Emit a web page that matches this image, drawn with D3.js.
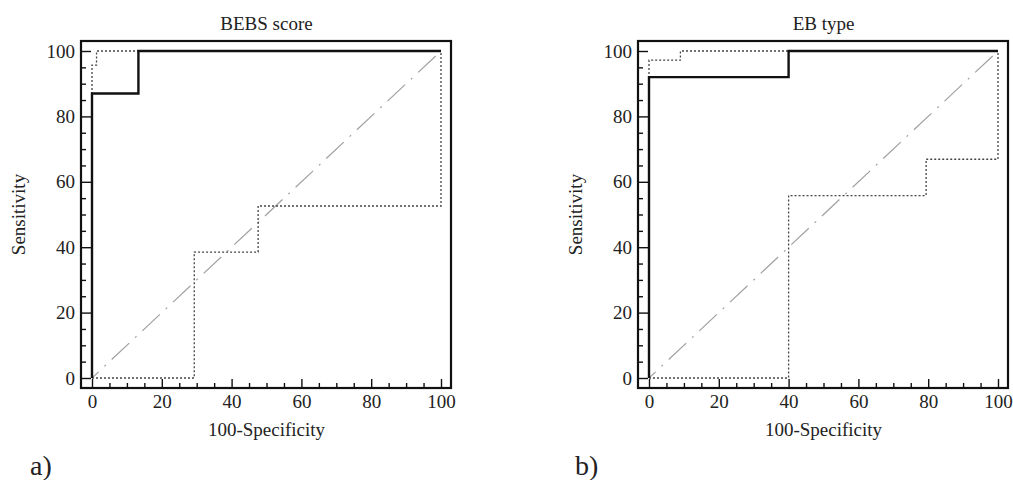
<!DOCTYPE html>
<html lang="en">
  <head>
    <meta charset="utf-8">
    <title>ROC curves</title>
    <style>
      html, body {
        margin: 0;
        padding: 0;
        background: #fff;
        overflow: hidden;
      }
      svg {
        display: block;
        font-family: "Liberation Serif", "DejaVu Serif", serif;
      }
      .axis text {
        font-family: "Liberation Serif", "DejaVu Serif", serif;
        font-size: 19px;
        fill: #222;
      }
      .axis line {
        stroke: #111;
        stroke-width: 1.4;
      }
      .axis path.domain {
        display: none;
      }
    </style>
    <script src="https://d3js.org/d3.v7.min.js"></script>
  </head>
  <body>
    <svg id="chart" width="1013" height="480"></svg>
  </body>
  <script>
  // tick labels
  const majorTicks = [0, 20, 40, 60, 80, 100];
  const minorTicks = [5, 10, 15, 25, 30, 35, 45, 50, 55, 65, 70, 75, 85, 90, 95];

  // a) BEBS score -- [100-specificity, sensitivity]
  const bebsRoc = [[0, 0], [0, 87], [13.3, 87], [13.3, 100], [100, 100]];
  const bebsUpper = [[0, 0], [0, 95.7], [1.3, 95.7], [1.3, 100], [100, 100]];
  const bebsLower = [[0, 0], [29.3, 0], [29.3, 38.5], [47.6, 38.5], [47.6, 52.6], [100, 52.6], [100, 100]];

  // b) EB type
  const ebRoc = [[0, 0], [0, 92], [40, 92], [40, 100], [100, 100]];
  const ebUpper = [[0, 0], [0, 97.2], [9, 97.2], [9, 100], [100, 100]];
  const ebLower = [[0, 0], [40, 0], [40, 55.8], [79.4, 55.8], [79.4, 66.9], [100, 66.9], [100, 100]];

  const diagonal = [[0, 0], [100, 100]];

  const svg = d3.select('#chart');

  drawPanel({ left: 81, title: 'BEBS score', tag: 'a)', tagX: 30, roc: bebsRoc, upper: bebsUpper, lower: bebsLower });
  drawPanel({ left: 638, title: 'EB type', tag: 'b)', tagX: 575, roc: ebRoc, upper: ebUpper, lower: ebLower });

  function drawPanel(p) {
    const top = 41;
    const frameW = 370;
    const frameH = 347;

    const g = svg.append('g').attr('transform', `translate(${p.left},${top})`);

    const x = d3.scaleLinear().domain([0, 100]).range([11, frameW - 10]);
    const y = d3.scaleLinear().domain([0, 100]).range([frameH - 10, 10]);

    const line = d3.line()
      .x(d => x(d[0]))
      .y(d => y(d[1]));

    // minor + major ticks, pointing inward
    g.append('g').attr('class', 'axis')
      .call(d3.axisLeft(y).tickValues(minorTicks).tickSize(-5).tickFormat(''));
    g.append('g').attr('class', 'axis')
      .call(d3.axisLeft(y).tickValues(majorTicks).tickSize(-10).tickPadding(6));
    g.append('g').attr('class', 'axis')
      .attr('transform', `translate(0,${frameH})`)
      .call(d3.axisBottom(x).tickValues(minorTicks).tickSize(-5).tickFormat(''));
    g.append('g').attr('class', 'axis')
      .attr('transform', `translate(0,${frameH})`)
      .call(d3.axisBottom(x).tickValues(majorTicks).tickSize(-9).tickPadding(7));

    // reference diagonal
    g.append('path')
      .datum(diagonal)
      .attr('d', line)
      .attr('fill', 'none')
      .attr('stroke', '#a0a0a0')
      .attr('stroke-width', 1.2)
      .attr('stroke-dasharray', '24,8,2,8')
      .attr('stroke-dashoffset', -27);

    // confidence bounds
    [p.lower, p.upper].forEach(pts => {
      g.append('path')
        .datum(pts)
        .attr('d', line)
        .attr('fill', 'none')
        .attr('stroke', '#444')
        .attr('stroke-width', 1.3)
        .attr('stroke-dasharray', '2,2');
    });

    // ROC curve
    g.append('path')
      .datum(p.roc)
      .attr('d', line)
      .attr('fill', 'none')
      .attr('stroke', '#111')
      .attr('stroke-width', 2.4);

    // frame
    g.append('rect')
      .attr('width', frameW)
      .attr('height', frameH)
      .attr('fill', 'none')
      .attr('stroke', '#111')
      .attr('stroke-width', 2.2);

    g.append('text')
      .attr('x', (x(0) + x(100)) / 2)
      .attr('y', -11)
      .attr('text-anchor', 'middle')
      .style('font-size', '19px')
      .style('fill', '#222')
      .text(p.title);

    g.append('text')
      .attr('x', (x(0) + x(100)) / 2)
      .attr('y', frameH + 48)
      .attr('text-anchor', 'middle')
      .style('font-size', '19px')
      .style('fill', '#222')
      .text('100-Specificity');

    g.append('text')
      .attr('transform', `translate(-56,${(y(0) + y(100)) / 2}) rotate(-90)`)
      .attr('text-anchor', 'middle')
      .style('font-size', '19px')
      .style('fill', '#222')
      .text('Sensitivity');

    svg.append('text')
      .attr('x', p.tagX)
      .attr('y', 475)
      .style('font-size', '28px')
      .style('fill', '#222')
      .text(p.tag);
  }
  </script>
</html>
